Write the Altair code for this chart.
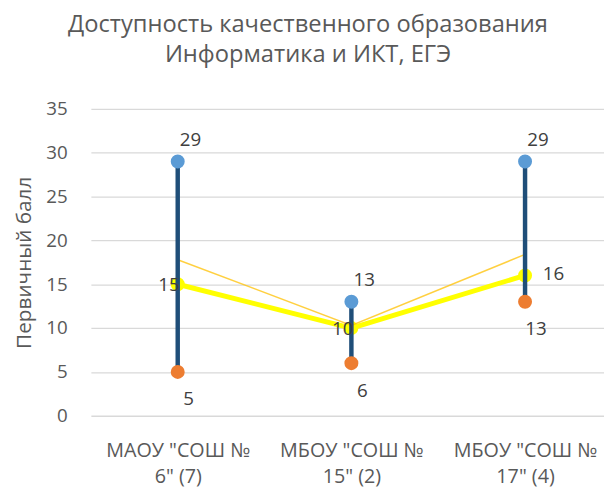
import altair as alt
import pandas as pd

categories = ['МАОУ "СОШ №|6" (7)', 'МБОУ "СОШ №|15" (2)', 'МБОУ "СОШ №|17" (4)']
max_vals = [29, 13, 29]
min_vals = [5, 6, 13]
avg_vals = [15, 10, 16]
trend_vals = [17.8, 10.3, 18.4]
avg_label_side = ["left", "left", "right"]

df = pd.DataFrame({
    "cat": categories,
    "max": max_vals,
    "min": min_vals,
    "avg": avg_vals,
    "trend": trend_vals,
    "side": avg_label_side,
})

FONT = "Open Sans"
x_enc = alt.X(
    "cat:N",
    sort=categories,
    scale=alt.Scale(type="point", padding=0.4773, align=0.5238),
    axis=alt.Axis(
        title=None,
        labelExpr="split(datum.label, '|')",
        labelAngle=0,
        labelFontSize=20,
        labelColor="#595959",
        labelFont=FONT,
        labelLineHeight=27,
        labelPadding=25,
        domain=False,
        ticks=False,
        labelLimit=300,
    ),
)
y_scale = alt.Scale(domain=[0, 35], nice=False)
y_axis = alt.Axis(
    values=[0, 5, 10, 15, 20, 25, 30, 35],
    title="Первичный балл",
    titleFontSize=21,
    titleFontWeight="normal",
    titleColor="#595959",
    titleFont=FONT,
    titlePadding=11,
    labelFontSize=19,
    labelColor="#595959",
    labelFont=FONT,
    labelPadding=24,
    domain=False,
    ticks=False,
    grid=True,
    gridColor="#D9D9D9",
    gridWidth=1.3,
)

base = alt.Chart(df).encode(x=x_enc)

avg_line = base.mark_line(color="#FFFF00", strokeWidth=5).encode(
    y=alt.Y("avg:Q", scale=y_scale, axis=y_axis)
)
avg_pts = base.mark_circle(color="#FFFF00", opacity=1, size=200).encode(y="avg:Q")
trend_line = base.mark_line(color="#FFC000", strokeWidth=1.5, opacity=0.75).encode(y="trend:Q")
rule = base.mark_rule(color="#1F4E79", strokeWidth=4.5).encode(y="min:Q", y2="max:Q")
max_pts = base.mark_circle(color="#5B9BD5", opacity=1, size=200).encode(y="max:Q")
min_pts = base.mark_circle(color="#ED7D31", opacity=1, size=200).encode(y="min:Q")

txt = dict(fontSize=19, color="#404040", font=FONT, baseline="middle")
max_txt = base.mark_text(dx=13, dy=-22, **txt).encode(y="max:Q", text="max:Q")
min_txt = base.mark_text(dx=11, dy=28, **txt).encode(y="min:Q", text="min:Q")
avg_txt_l = base.mark_text(align="right", dx=2, dy=1, **txt).encode(
    y="avg:Q", text="avg:Q"
).transform_filter("datum.side == 'left'")
avg_txt_r = base.mark_text(align="left", dx=18, dy=-1, **txt).encode(
    y="avg:Q", text="avg:Q"
).transform_filter("datum.side == 'right'")

chart = alt.layer(
    avg_line, avg_pts, trend_line, rule, max_pts, min_pts,
    max_txt, min_txt, avg_txt_l, avg_txt_r,
).properties(
    width=520,
    height=311,
    autosize=alt.AutoSizeParams(type="none"),
    padding={"left": 84, "top": 99, "right": 0, "bottom": 72},
    title=alt.TitleParams(
        text=["Доступность качественного образования", "Информатика и ИКТ, ЕГЭ"],
        fontSize=24,
        font=FONT,
        fontWeight="normal",
        color="#595959",
        anchor="middle",
        dx=-40,
        offset=33,
        lineHeight=31,
    ),
).configure_view(stroke=None)

chart.save("out.html", embed_options={"renderer": "svg", "actions": False})
